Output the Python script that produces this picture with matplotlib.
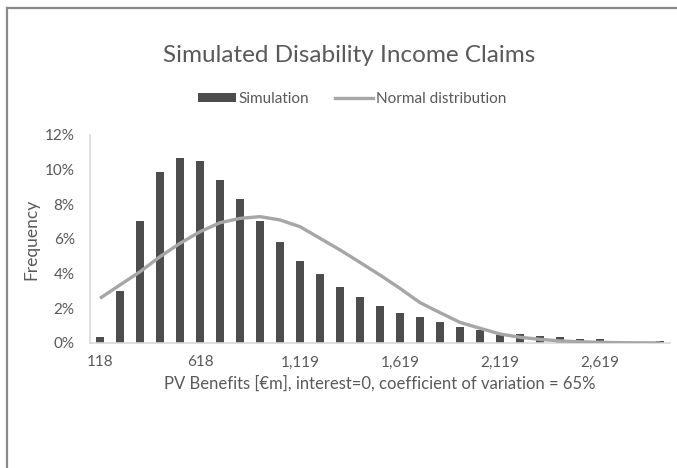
import numpy as np
import matplotlib
matplotlib.use('Agg')
import matplotlib.pyplot as plt
from matplotlib.lines import Line2D
from matplotlib.patches import Patch
import matplotlib.ticker as mtick

plt.rcParams['font.family'] = ['Lato', 'DejaVu Sans']

# simulated claims histogram (frequency, %) and fitted normal curve
sim_freq = [0.35, 3.02, 7.06, 9.85, 10.69, 10.50, 9.40, 8.33, 7.06, 5.81,
            4.73, 3.98, 3.25, 2.67, 2.15, 1.71, 1.50, 1.19, 0.94, 0.75,
            0.49, 0.54, 0.43, 0.33, 0.25, 0.23, 0.03, 0.03, 0.14]
normal_freq = [2.58, 3.35, 4.11, 4.98, 5.75, 6.42, 6.94, 7.19, 7.29, 7.10,
               6.71, 6.04, 5.37, 4.65, 3.92, 3.15, 2.33, 1.75, 1.19, 0.85,
               0.52, 0.33, 0.21, 0.12, 0.07, 0.04, 0.02, 0.01, 0.005]
tick_labels = ['118', '618', '1,119', '1,619', '2,119', '2,619']
tick_every = 5

text_col = '#595959'
W, H = 677, 468

fig = plt.figure(figsize=(W / 100, H / 100), dpi=100)
ax = fig.add_axes([90 / W, 1 - 343 / H, 580 / W, 208 / H])

x = np.arange(len(sim_freq))
ax.bar(x, np.array(sim_freq) / 100, width=0.36, color='#4d4d4d', zorder=2)
ax.plot(x, np.array(normal_freq) / 100, color='#a6a6a6', lw=2.4, zorder=3,
        solid_capstyle='butt')

ax.set_xlim(-0.5, len(sim_freq) - 0.5)
ax.set_ylim(0, 0.12)
ax.yaxis.set_major_locator(mtick.MultipleLocator(0.02))
ax.yaxis.set_major_formatter(mtick.PercentFormatter(1.0, decimals=0))
ax.set_xticks(x[::tick_every][:len(tick_labels)])
ax.set_xticklabels(tick_labels)
ax.tick_params(length=0, labelsize=11, colors=text_col)
ax.tick_params(axis='y', pad=11)
ax.tick_params(axis='x', pad=9)

for s in ['top', 'right']:
    ax.spines[s].set_visible(False)
for s in ['left', 'bottom']:
    ax.spines[s].set_color('#d9d9d9')
    ax.spines[s].set_linewidth(1.2)

ax.set_ylabel('Frequency', fontsize=12.5, color=text_col, labelpad=4)
ax.set_xlabel('PV Benefits [\u20acm], interest=0, coefficient of variation = 65%',
              fontsize=12, color=text_col, labelpad=4)

fig.text(349 / W, 1 - 55 / H, 'Simulated Disability Income Claims',
         ha='center', va='center', fontsize=17.5, color=text_col)

handles = [Patch(facecolor='#4d4d4d', edgecolor='none'),
           Line2D([0], [0], color='#a6a6a6', lw=2.4)]
fig.legend(handles, ['Simulation', 'Normal distribution'], ncol=2,
           loc='center', bbox_to_anchor=(352 / W, 1 - 99 / H), frameon=False,
           fontsize=11, handlelength=2.5, handleheight=0.5, handletextpad=0.15,
           columnspacing=1.7, labelcolor=text_col)

# outer chart border (cropped on right and bottom)
fig.add_artist(Line2D([6.5 / W, 1], [1 - 7.5 / H, 1 - 7.5 / H], color='#8a8a8a', lw=1.6))
fig.add_artist(Line2D([6.5 / W, 6.5 / W], [0, 1 - 7.5 / H], color='#8a8a8a', lw=1.6))

fig.savefig('out.png', dpi=100)
